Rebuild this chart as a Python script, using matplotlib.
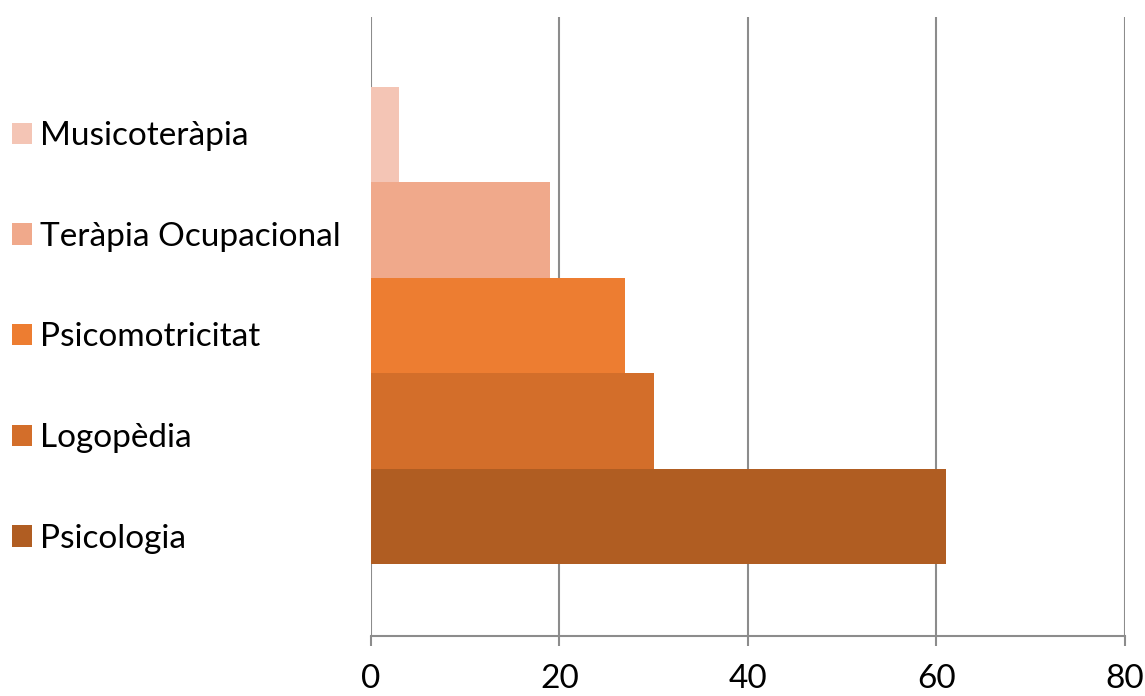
import matplotlib.pyplot as plt
from matplotlib.patches import Patch

# 数据
categories = ['Psicologia', 'Logopèdia', 'Psicomotricitat', 'Teràpia Ocupacional', 'Musicoteràpia']
values = [61, 30, 27, 19, 3]
colors = ['#B05D22', '#D36E2A', '#ED7D31', '#F0A98B', '#F4C5B5']
xticks = [0, 20, 40, 60, 80]

plt.rcParams['font.family'] = ['Lato', 'DejaVu Sans']

fig = plt.figure(figsize=(11.45, 6.96), dpi=100)
ax = fig.add_axes([0.324, 0.0862, 0.6585, 0.8894])

pos = list(range(len(categories)))
ax.barh(pos, values, height=1.0, color=colors, zorder=3)

ax.set_xlim(0, 80)
ax.set_ylim(-1.255, 5.234)
ax.set_xticks(xticks)
ax.set_yticks([])
ax.grid(axis='x', color='#8C8C8C', linewidth=1.5, zorder=0)
for s in ['top', 'right', 'left']:
    ax.spines[s].set_visible(False)
ax.spines['bottom'].set_color('#8C8C8C')
ax.spines['bottom'].set_linewidth(1.5)
ax.tick_params(axis='x', length=7, width=1.5, color='#8C8C8C', labelsize=24, pad=13)

# 图例（倒序，Musicoteràpia在上）
handles = [Patch(facecolor=c, edgecolor='none') for c in colors[::-1]]
fig.legend(handles, categories[::-1], loc='upper left', bbox_to_anchor=(0.0105, 0.826),
           frameon=False, fontsize=24, handlelength=0.6, handleheight=0.6,
           handletextpad=0.25, labelspacing=2.12, borderaxespad=0, borderpad=0)

fig.savefig('out.png', dpi=100)
